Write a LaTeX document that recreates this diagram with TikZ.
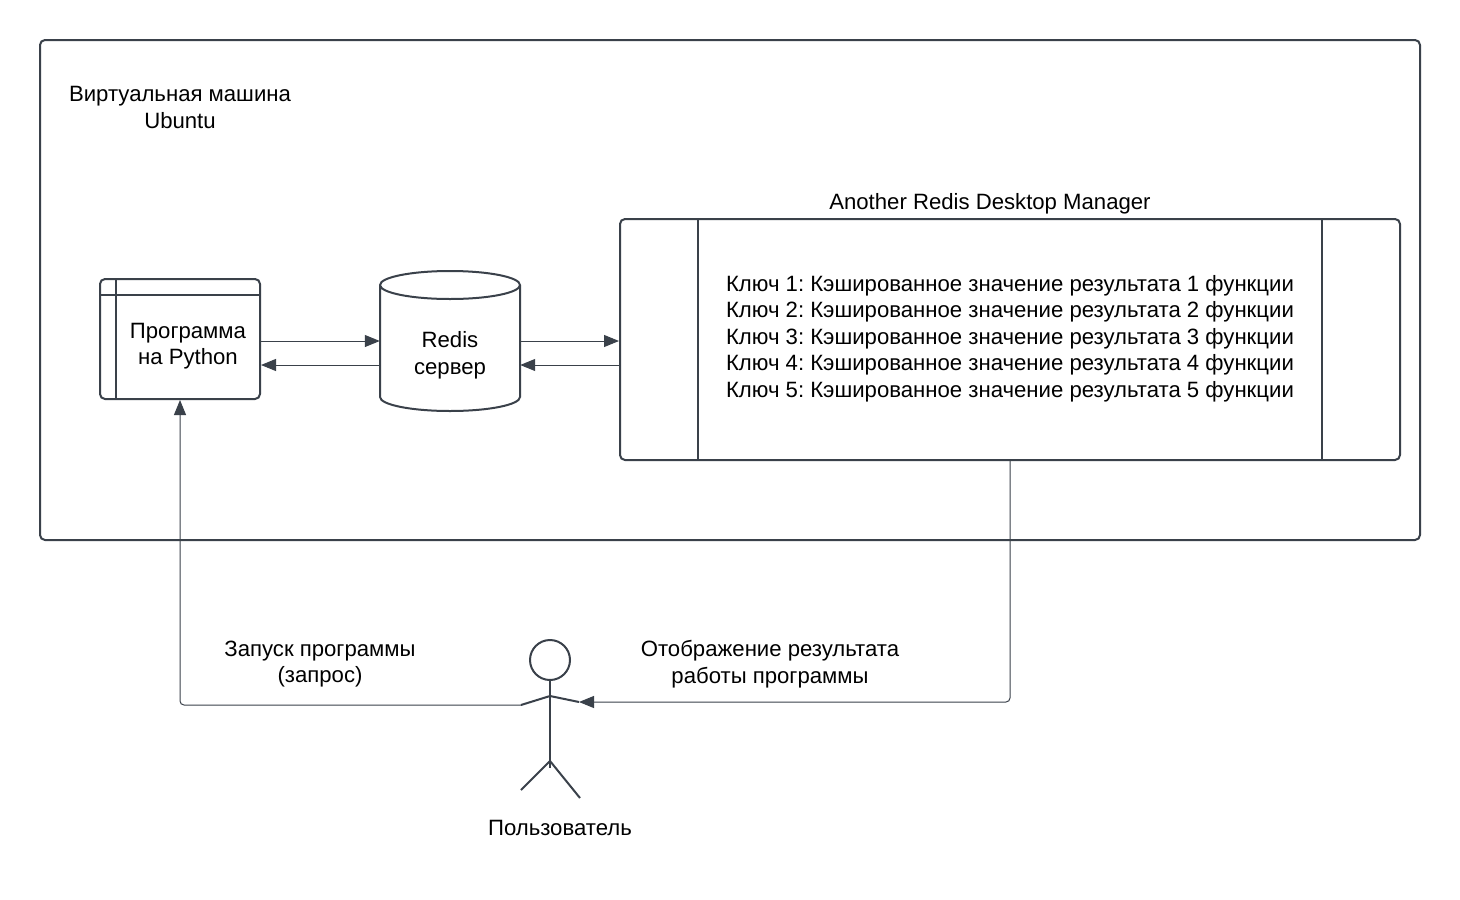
\documentclass[tikz,border=0pt]{standalone}
\usepackage{fontspec}
\setmainfont{Liberation Sans}
\usetikzlibrary{arrows.meta}
\definecolor{ink}{HTML}{3A414A}
\tikzset{
  x=1pt,y=-1pt,
  shape line/.style={draw=ink,line width=2pt},
  box/.style={shape line,rectangle,rounded corners=5pt,inner sep=0pt,align=center},
  conn/.style={draw=ink,line width=1pt,rounded corners=4pt,-{Triangle[length=15pt,width=12pt]}},
  limb/.style={draw=ink,line width=2pt},
  label/.style={inner sep=0pt,align=center,text=black,font=\fontsize{22.15pt}{26.6pt}\selectfont\frenchspacing},
}
\begin{document}
\begin{tikzpicture}
\useasboundingbox (0,0) rectangle (1460,900);
\fill[white] (0,0) rectangle (1460,900);
% containers
\node[box,minimum width=1380pt,minimum height=500pt] (vm) at (730,290) {};
\node[label] (vmlabel) at (180,107.5) {Виртуальная машина\\Ubuntu};
% Python program
\node[box,minimum width=160pt,minimum height=120pt] (prog) at (180,339) {};
\draw[shape line] (116,279) -- (116,399) (100,295) -- (260,295);
\node[label] (progtext) at (188,346) {Программа\\на Python};
% Redis cylinder
\node[inner sep=0pt,minimum width=140pt,minimum height=140pt] (redis) at (450,341) {};
\draw[shape line] (380,285) arc[start angle=180,end angle=360,x radius=70,y radius=-14]
  (380,285) arc[start angle=180,end angle=0,x radius=70,y radius=-14]
  -- (520,397) arc[start angle=0,end angle=-180,x radius=70,y radius=-14] -- cycle;
\node[label] (redistext) at (450,355) {Redis\\сервер};
% Redis Desktop Manager
\node[box,minimum width=780pt,minimum height=241pt] (mgr) at (1010,339.5) {};
\draw[shape line] (698,219) -- (698,460) (1322,219) -- (1322,460);
\node[label] (mgrtitle) at (990,203.5) {Another Redis Desktop Manager};
\node[label] (mgrtext) at (1010,338.5) {Ключ 1: Кэшированное значение результата 1 функции\\
Ключ 2: Кэшированное значение результата 2 функции\\
Ключ 3: Кэшированное значение результата 3 функции\\
Ключ 4: Кэшированное значение результата 4 функции\\
Ключ 5: Кэшированное значение результата 5 функции};
% actor
\node[draw=ink,line width=2pt,circle,minimum size=40pt,inner sep=0pt] (head) at (550,660) {};
\coordinate (neck) at (550,696);
\coordinate (hip) at (550,761);
\coordinate (foot) at (550,768);
\coordinate (lhand) at (521,705);
\coordinate (rhand) at (579,702);
\coordinate (lfoot) at (521,790);
\coordinate (rfoot) at (580,798);
\draw[limb] (head.south) -- (foot);
\draw[limb] (lhand) -- (neck) -- (rhand);
\draw[limb] (lfoot) -- (hip) -- (rfoot);
\node[label] (user) at (560,828) {Пользователь};
% connectors
\coordinate (pa) at (prog.east |- 0,341);
\coordinate (pb) at (prog.east |- 0,365);
\coordinate (ra) at (redis.west |- 0,341);
\coordinate (rb) at (redis.west |- 0,365);
\coordinate (rc) at (redis.east |- 0,341);
\coordinate (rd) at (redis.east |- 0,365);
\coordinate (ma) at (mgr.west |- 0,341);
\coordinate (mb) at (mgr.west |- 0,365);
\draw[conn] (pa) -- (ra);
\draw[conn] (rb) -- (pb);
\draw[conn] (rc) -- (ma);
\draw[conn] (mb) -- (rd);
\draw[conn] (lhand) -- (180,705) -- (prog.south);
\draw[conn] (mgr.south) -- (1010,702) -- (rhand);
\node[label] (runlabel) at (320,664) {Запуск программы\\(запрос)};
\node[label] (showlabel) at (770,664) {Отображение результата\\работы программы};
\end{tikzpicture}
\end{document}
